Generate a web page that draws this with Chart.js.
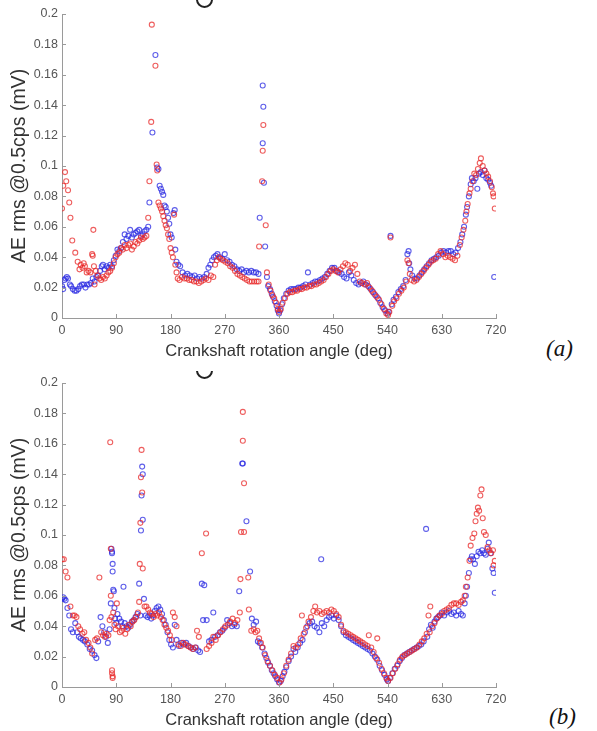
<!DOCTYPE html>
<html>
<head>
<meta charset="utf-8">
<script src="https://cdn.jsdelivr.net/npm/chart.js@4"></script>
<style>
  body { margin: 0; background: #fff; width: 597px; height: 731px; position: relative; overflow: hidden; }
  canvas { position: absolute; left: 0; }
  #cA { top: 0; }
  #cB { top: 369px; }
  .tag { position: absolute; font-family: "Liberation Serif", serif; font-style: italic; font-size: 23px; color: #111; }
  .clip { position: absolute; left: 190px; width: 30px; height: 10px; overflow: hidden; }
  .ring { position: absolute; left: 6px; top: -9px; width: 13px; height: 13px; border: 2px solid #222; border-radius: 50%; }
</style>
</head>
<body>
<canvas id="cA" width="520" height="365"></canvas>
<canvas id="cB" width="520" height="365"></canvas>
<div class="clip" style="top:0;"><div class="ring"></div></div>
<div class="clip" style="top:371px;"><div class="ring"></div></div>
<div class="tag" style="left:546px; top:336px;">(a)</div>
<div class="tag" style="left:549px; top:704px;">(b)</div>
<script>
// tick labels
const angleTicks = [0, 90, 180, 270, 360, 450, 540, 630, 720];
const aeTicks = [0, 0.02, 0.04, 0.06, 0.08, 0.1, 0.12, 0.14, 0.16, 0.18, 0.2];

// (a) [angle deg, AE rms mV]
const aBlue = [[0,0.021],[2,0.019],[4,0.025],[6,0.026],[8,0.027],[10,0.026],[13,0.022],[15,0.021],[18,0.019],[21,0.018],[24,0.018],[27,0.019],[30,0.021],[33,0.022],[36,0.022],[39,0.020],[42,0.022],[45,0.022],[48,0.023],[51,0.026],[54,0.024],[57,0.027],[60,0.028],[63,0.031],[66,0.034],[68,0.035],[71,0.032],[74,0.034],[77,0.033],[80,0.035],[83,0.034],[86,0.038],[89,0.041],[92,0.045],[95,0.044],[98,0.046],[101,0.050],[104,0.055],[107,0.052],[110,0.054],[113,0.058],[116,0.053],[119,0.055],[122,0.056],[125,0.057],[128,0.058],[131,0.054],[134,0.055],[137,0.057],[140,0.058],[143,0.060],[145,0.076],[150,0.122],[155,0.173],[158,0.099],[160,0.098],[162,0.087],[164,0.085],[166,0.083],[168,0.081],[170,0.074],[172,0.073],[174,0.070],[176,0.066],[178,0.062],[180,0.055],[182,0.053],[185,0.069],[187,0.071],[188,0.045],[190,0.037],[193,0.035],[196,0.034],[200,0.030],[204,0.028],[208,0.029],[212,0.028],[216,0.027],[220,0.028],[224,0.026],[228,0.027],[232,0.026],[236,0.027],[240,0.029],[243,0.033],[246,0.035],[249,0.038],[252,0.040],[255,0.041],[258,0.042],[262,0.040],[266,0.039],[270,0.042],[274,0.038],[278,0.037],[282,0.035],[286,0.034],[290,0.032],[294,0.031],[298,0.032],[302,0.030],[306,0.031],[310,0.030],[314,0.031],[318,0.030],[322,0.030],[326,0.029],[328,0.066],[333,0.153],[334,0.139],[333,0.115],[335,0.089],[337,0.047],[340,0.027],[342,0.021],[345,0.019],[348,0.016],[350,0.014],[353,0.011],[356,0.008],[358,0.005],[360,0.003],[362,0.005],[365,0.009],[368,0.013],[372,0.016],[376,0.018],[380,0.019],[384,0.019],[388,0.019],[392,0.020],[396,0.020],[400,0.021],[404,0.022],[408,0.030],[412,0.022],[416,0.023],[420,0.024],[424,0.024],[428,0.025],[432,0.026],[436,0.027],[440,0.029],[444,0.031],[448,0.033],[452,0.033],[456,0.031],[460,0.030],[464,0.029],[468,0.027],[472,0.026],[476,0.030],[480,0.028],[484,0.025],[488,0.023],[492,0.022],[496,0.023],[500,0.024],[504,0.022],[508,0.021],[512,0.019],[516,0.017],[520,0.015],[524,0.013],[528,0.010],[532,0.007],[536,0.005],[540,0.003],[542,0.004],[545,0.054],[547,0.009],[550,0.012],[554,0.014],[558,0.017],[562,0.019],[566,0.021],[570,0.025],[573,0.042],[575,0.044],[576,0.036],[578,0.032],[581,0.028],[585,0.026],[589,0.026],[593,0.028],[597,0.030],[601,0.032],[605,0.034],[609,0.036],[613,0.038],[617,0.039],[621,0.040],[625,0.041],[629,0.043],[633,0.044],[637,0.043],[641,0.044],[645,0.044],[649,0.042],[653,0.043],[657,0.046],[661,0.050],[664,0.055],[667,0.060],[670,0.068],[672,0.073],[675,0.080],[678,0.088],[680,0.092],[683,0.090],[686,0.092],[689,0.085],[692,0.095],[695,0.096],[698,0.094],[701,0.097],[704,0.092],[707,0.091],[710,0.089],[712,0.087],[717,0.027]];
const aRed = [[0,0.072],[2,0.087],[5,0.096],[7,0.090],[10,0.084],[12,0.076],[14,0.066],[17,0.051],[22,0.043],[26,0.037],[29,0.032],[31,0.035],[34,0.033],[36,0.036],[38,0.034],[41,0.030],[44,0.031],[47,0.030],[50,0.042],[51,0.041],[52,0.058],[53,0.034],[54,0.022],[56,0.031],[59,0.028],[62,0.026],[65,0.025],[68,0.027],[71,0.026],[74,0.028],[77,0.030],[80,0.031],[83,0.033],[86,0.036],[89,0.040],[92,0.042],[95,0.043],[98,0.046],[101,0.045],[104,0.048],[107,0.046],[110,0.048],[113,0.049],[116,0.045],[119,0.047],[122,0.050],[125,0.049],[128,0.051],[131,0.053],[134,0.052],[137,0.053],[140,0.054],[143,0.066],[145,0.090],[148,0.129],[149,0.193],[155,0.166],[157,0.101],[158,0.097],[160,0.076],[162,0.074],[164,0.072],[166,0.070],[168,0.067],[170,0.064],[172,0.061],[174,0.059],[176,0.055],[178,0.052],[180,0.046],[182,0.043],[184,0.040],[186,0.068],[188,0.035],[190,0.030],[192,0.026],[195,0.025],[199,0.027],[203,0.026],[207,0.026],[211,0.025],[215,0.025],[219,0.024],[223,0.024],[227,0.023],[231,0.024],[235,0.025],[239,0.026],[243,0.025],[247,0.028],[251,0.027],[254,0.035],[257,0.038],[260,0.040],[263,0.039],[267,0.038],[271,0.037],[275,0.036],[279,0.034],[283,0.033],[287,0.031],[291,0.029],[295,0.028],[299,0.027],[303,0.026],[307,0.025],[311,0.024],[315,0.024],[319,0.024],[323,0.024],[326,0.024],[327,0.047],[332,0.090],[333,0.110],[334,0.127],[338,0.061],[340,0.030],[343,0.022],[346,0.018],[349,0.015],[352,0.013],[355,0.010],[358,0.006],[360,0.004],[363,0.006],[366,0.010],[370,0.013],[374,0.016],[378,0.017],[382,0.017],[386,0.018],[390,0.018],[394,0.019],[398,0.019],[402,0.020],[406,0.020],[410,0.021],[414,0.021],[418,0.022],[422,0.022],[426,0.023],[430,0.024],[434,0.025],[438,0.027],[442,0.029],[446,0.031],[450,0.032],[454,0.031],[458,0.030],[462,0.032],[466,0.034],[470,0.036],[474,0.035],[478,0.031],[482,0.033],[486,0.035],[490,0.029],[494,0.024],[498,0.023],[502,0.022],[506,0.023],[510,0.020],[514,0.018],[518,0.016],[522,0.014],[526,0.012],[530,0.009],[534,0.006],[538,0.003],[541,0.002],[543,0.004],[545,0.053],[548,0.008],[551,0.011],[555,0.013],[559,0.016],[563,0.018],[567,0.020],[571,0.024],[573,0.038],[575,0.036],[577,0.029],[580,0.025],[584,0.024],[588,0.025],[592,0.027],[596,0.029],[600,0.031],[604,0.033],[608,0.035],[612,0.037],[616,0.038],[620,0.039],[624,0.042],[628,0.044],[632,0.042],[636,0.040],[640,0.041],[644,0.040],[648,0.039],[652,0.038],[656,0.041],[660,0.048],[663,0.053],[666,0.058],[669,0.064],[671,0.070],[673,0.075],[676,0.082],[678,0.085],[681,0.090],[684,0.095],[687,0.094],[690,0.098],[693,0.102],[695,0.105],[698,0.100],[701,0.097],[704,0.095],[707,0.093],[710,0.090],[713,0.086],[715,0.082],[716,0.080],[718,0.072]];

// (b)
const bBlue = [[0,0.058],[2,0.059],[4,0.058],[6,0.057],[9,0.052],[12,0.047],[15,0.038],[18,0.036],[22,0.042],[25,0.036],[28,0.033],[31,0.032],[35,0.031],[38,0.030],[42,0.028],[46,0.025],[50,0.024],[54,0.021],[57,0.019],[60,0.030],[64,0.046],[67,0.040],[70,0.036],[73,0.033],[76,0.029],[79,0.038],[81,0.055],[82,0.091],[83,0.089],[83,0.088],[84,0.081],[84,0.076],[85,0.064],[86,0.063],[87,0.052],[88,0.045],[90,0.042],[92,0.048],[95,0.045],[98,0.043],[100,0.040],[102,0.066],[104,0.042],[107,0.040],[110,0.039],[113,0.041],[116,0.043],[119,0.044],[122,0.046],[125,0.048],[128,0.068],[130,0.047],[131,0.103],[132,0.126],[133,0.145],[134,0.140],[134,0.110],[136,0.058],[139,0.047],[142,0.046],[145,0.047],[148,0.045],[151,0.047],[154,0.050],[157,0.052],[160,0.053],[163,0.051],[166,0.048],[169,0.044],[172,0.041],[175,0.036],[178,0.031],[181,0.028],[184,0.026],[187,0.041],[190,0.031],[194,0.027],[198,0.029],[202,0.028],[206,0.029],[210,0.027],[214,0.026],[218,0.025],[222,0.026],[226,0.024],[229,0.023],[232,0.068],[236,0.067],[234,0.044],[240,0.044],[244,0.030],[248,0.031],[251,0.049],[254,0.033],[258,0.034],[262,0.036],[266,0.037],[270,0.039],[274,0.044],[278,0.042],[282,0.040],[286,0.041],[290,0.040],[294,0.063],[299,0.147],[300,0.147],[306,0.109],[312,0.076],[315,0.045],[318,0.041],[322,0.043],[325,0.030],[328,0.029],[332,0.026],[336,0.022],[339,0.019],[342,0.016],[345,0.014],[348,0.011],[351,0.009],[354,0.007],[357,0.005],[360,0.003],[363,0.004],[366,0.007],[369,0.010],[372,0.013],[376,0.017],[380,0.020],[384,0.025],[387,0.023],[391,0.026],[395,0.029],[399,0.031],[403,0.036],[407,0.040],[411,0.042],[415,0.043],[419,0.040],[423,0.039],[427,0.036],[430,0.084],[431,0.042],[435,0.040],[439,0.044],[443,0.046],[447,0.047],[451,0.045],[455,0.047],[459,0.044],[463,0.040],[467,0.036],[471,0.034],[475,0.033],[479,0.032],[483,0.031],[487,0.030],[491,0.029],[495,0.028],[499,0.027],[503,0.026],[507,0.025],[511,0.024],[515,0.022],[519,0.020],[523,0.018],[527,0.014],[531,0.011],[535,0.008],[539,0.005],[541,0.004],[544,0.006],[548,0.009],[552,0.012],[556,0.014],[560,0.017],[564,0.019],[568,0.021],[572,0.022],[576,0.023],[580,0.024],[584,0.025],[588,0.026],[592,0.027],[596,0.028],[600,0.030],[604,0.104],[606,0.033],[609,0.038],[612,0.041],[615,0.039],[618,0.043],[621,0.045],[624,0.046],[627,0.047],[630,0.049],[634,0.047],[638,0.049],[642,0.050],[646,0.048],[650,0.049],[654,0.047],[658,0.050],[662,0.048],[665,0.047],[668,0.055],[670,0.060],[672,0.066],[675,0.075],[678,0.084],[680,0.086],[682,0.084],[685,0.081],[688,0.086],[691,0.089],[694,0.088],[697,0.090],[700,0.088],[703,0.087],[706,0.091],[708,0.095],[711,0.088],[714,0.078],[716,0.075],[718,0.062]];
const bRed = [[0,0.084],[3,0.084],[6,0.076],[9,0.072],[14,0.053],[18,0.047],[21,0.047],[24,0.046],[27,0.040],[30,0.038],[34,0.035],[37,0.036],[40,0.031],[44,0.029],[47,0.026],[50,0.022],[55,0.031],[58,0.032],[62,0.072],[65,0.036],[68,0.034],[71,0.033],[74,0.035],[77,0.034],[79,0.044],[80,0.161],[81,0.091],[81,0.060],[82,0.046],[83,0.011],[83,0.009],[84,0.007],[84,0.006],[85,0.049],[87,0.041],[89,0.038],[91,0.055],[93,0.040],[96,0.036],[99,0.037],[102,0.039],[105,0.035],[108,0.038],[111,0.041],[114,0.040],[117,0.043],[120,0.044],[123,0.046],[126,0.049],[128,0.056],[129,0.081],[130,0.108],[131,0.138],[132,0.156],[133,0.128],[134,0.078],[137,0.053],[140,0.053],[143,0.051],[146,0.049],[149,0.048],[152,0.046],[155,0.048],[158,0.047],[161,0.049],[164,0.046],[167,0.044],[170,0.041],[173,0.039],[176,0.037],[179,0.034],[182,0.031],[184,0.049],[187,0.046],[190,0.040],[193,0.028],[197,0.027],[201,0.029],[205,0.028],[209,0.027],[213,0.026],[217,0.025],[221,0.026],[224,0.037],[227,0.033],[232,0.088],[239,0.101],[240,0.025],[244,0.027],[248,0.029],[251,0.033],[255,0.031],[259,0.034],[263,0.036],[267,0.038],[271,0.040],[275,0.041],[279,0.043],[283,0.045],[287,0.042],[291,0.044],[295,0.049],[296,0.071],[297,0.102],[300,0.181],[300,0.162],[302,0.134],[302,0.102],[309,0.072],[310,0.051],[314,0.037],[318,0.038],[321,0.036],[324,0.037],[327,0.032],[330,0.029],[333,0.026],[337,0.021],[341,0.017],[345,0.014],[349,0.011],[353,0.008],[357,0.006],[361,0.003],[364,0.005],[368,0.009],[372,0.014],[376,0.018],[380,0.022],[384,0.027],[388,0.026],[392,0.028],[396,0.032],[398,0.047],[401,0.035],[405,0.039],[409,0.043],[413,0.046],[417,0.050],[420,0.053],[423,0.049],[427,0.050],[431,0.048],[435,0.049],[439,0.050],[443,0.049],[447,0.051],[451,0.050],[455,0.048],[459,0.046],[463,0.041],[467,0.037],[471,0.036],[475,0.035],[479,0.034],[483,0.033],[487,0.032],[491,0.031],[495,0.030],[499,0.029],[503,0.028],[507,0.027],[509,0.034],[513,0.026],[517,0.023],[521,0.019],[523,0.032],[526,0.016],[530,0.012],[534,0.009],[538,0.006],[541,0.004],[545,0.006],[549,0.009],[553,0.012],[557,0.015],[561,0.018],[565,0.020],[569,0.021],[573,0.022],[577,0.023],[581,0.024],[585,0.025],[589,0.026],[593,0.028],[597,0.030],[601,0.032],[605,0.035],[608,0.047],[611,0.053],[610,0.036],[614,0.040],[618,0.042],[622,0.045],[626,0.047],[630,0.048],[634,0.050],[638,0.051],[642,0.052],[646,0.054],[650,0.055],[654,0.055],[658,0.054],[662,0.056],[665,0.057],[668,0.060],[670,0.066],[673,0.072],[676,0.083],[678,0.093],[681,0.098],[684,0.101],[686,0.109],[688,0.114],[690,0.118],[692,0.116],[694,0.126],[696,0.130],[698,0.111],[700,0.102],[703,0.100],[706,0.092],[709,0.090],[712,0.088],[715,0.090],[716,0.080],[718,0.083]];

const RED = "rgba(232, 40, 40, 0.75)";
const BLUE = "rgba(40, 40, 225, 0.75)";
const AXIS = "#9a9a9a";

const toPts = (arr) => arr.map(([x, y]) => ({ x, y }));

// matlab style inward ticks
const innerTicks = {
  id: "innerTicks",
  afterDraw(chart) {
    const { ctx, chartArea: a, scales } = chart;
    ctx.save();
    ctx.strokeStyle = AXIS;
    ctx.lineWidth = 1;
    ctx.beginPath();
    angleTicks.forEach((t) => {
      const px = Math.round(scales.x.getPixelForValue(t)) + 0.5;
      ctx.moveTo(px, a.bottom);
      ctx.lineTo(px, a.bottom - 4);
    });
    aeTicks.forEach((t) => {
      const py = Math.round(scales.y.getPixelForValue(t)) + 0.5;
      ctx.moveTo(a.left, py);
      ctx.lineTo(a.left + 4, py);
    });
    ctx.stroke();
    ctx.restore();
  },
};

const makeChart = (id, red, blue) => {
  const ctx = document.getElementById(id).getContext("2d");
  return new Chart(ctx, {
    type: "scatter",
    data: {
      datasets: [
        { data: toPts(red), borderColor: RED, backgroundColor: "rgba(0,0,0,0)", pointRadius: 2.5, borderWidth: 1.1 },
        { data: toPts(blue), borderColor: BLUE, backgroundColor: "rgba(0,0,0,0)", pointRadius: 2.5, borderWidth: 1.1 },
      ],
    },
    options: {
      responsive: false,
      animation: false,
      layout: { padding: { top: 14, right: 24, left: 0, bottom: 0 } },
      plugins: { legend: { display: false }, tooltip: { enabled: false } },
      scales: {
        x: {
          type: "linear",
          min: 0,
          max: 720,
          afterBuildTicks: (s) => { s.ticks = angleTicks.map((v) => ({ value: v })); },
          afterFit: (s) => { s.height = 47; },
          grid: { display: false, drawTicks: false },
          border: { color: AXIS, width: 1 },
          ticks: { color: "#555", font: { family: "Liberation Sans", size: 12.5 }, padding: 5 },
          title: { display: true, text: "Crankshaft rotation angle (deg)", color: "#333", font: { family: "Liberation Sans", size: 16.5 }, padding: { top: 2 } },
        },
        y: {
          min: 0,
          max: 0.2,
          afterBuildTicks: (s) => { s.ticks = aeTicks.map((v) => ({ value: v })); },
          afterFit: (s) => { s.width = 62; },
          grid: { display: false, drawTicks: false },
          border: { color: AXIS, width: 1 },
          ticks: { color: "#555", font: { family: "Liberation Sans", size: 12.5 }, padding: 4 , callback: (v) => String(+v.toFixed(2)) },
          title: { display: true, text: "AE rms @0.5cps (mV)", color: "#333", font: { family: "Liberation Sans", size: 19.5 }, padding: { top: 8, bottom: 2 } },
        },
      },
    },
    plugins: [innerTicks],
  });
};

makeChart("cA", aRed, aBlue);
makeChart("cB", bRed, bBlue);
</script>
</body>
</html>
